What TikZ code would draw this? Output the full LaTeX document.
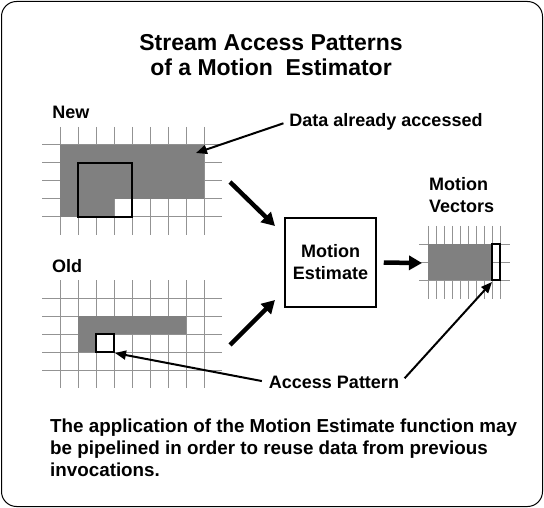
\documentclass[tikz,border=0pt]{standalone}
\usepackage{fontspec}
\setmainfont{Liberation Sans}
\usetikzlibrary{positioning,arrows.meta}

\begin{document}
\begin{tikzpicture}[x=1pt,y=-1pt,
  gridline/.style={draw=gray!85,line width=1pt},
  cellbox/.style={draw=black,line width=2pt},
  fatarrow/.style={line width=4.5pt,-{Triangle[length=13pt,width=14pt]}},
  thinarrow/.style={line width=2pt,-{Triangle[length=11pt,width=9pt]}},
  lbl/.style={inner sep=2pt,font=\fontsize{18}{22}\selectfont\bfseries}]
\useasboundingbox (0,0) rectangle (544,508);
\draw [rounded corners=15pt,line width=1pt] (1.5,1.5) rectangle (542.5,506.5);
\node [align=center,font=\fontsize{23}{25}\selectfont\bfseries] (title) at (271,55)
  {Stream Access Patterns\\of a Motion~ Estimator};
\node [lbl] (new) at (71,112) {New};
\node [lbl] (old) at (67,266) {Old};
\foreach \x in {60,78,...,204} {
  \draw [gridline] (\x,127) -- (\x,235);
  \draw [gridline] (\x,280) -- (\x,388);
}
\foreach \y in {145,163,...,217} \draw [gridline] (42,\y) -- (222,\y);
\foreach \y in {298,316,...,370} \draw [gridline] (42,\y) -- (222,\y);
\fill [gray] (60,145) -- (204,145) -- (204,199) -- (114,199) -- (114,217) -- (60,217) -- cycle;
\fill [gray] (78,316) -- (186,316) -- (186,334) -- (96,334) -- (96,352) -- (78,352) -- cycle;
\draw [cellbox] (78,163) rectangle (132,217);
\draw [cellbox] (96,334) rectangle (114,352);
\node [draw,line width=1.5pt,minimum width=91pt,minimum height=89pt,align=center,
  font=\fontsize{18}{22}\selectfont\bfseries] (estimate) at (330.5,262.5) {Motion\\Estimate};
\node [lbl,align=left,anchor=west] (vectors) at (427,195) {Motion\\Vectors};
\foreach \x in {428,436,...,500} \draw [gridline] (\x,226) -- (\x,299);
\foreach \y in {244,262,280} \draw [gridline] (419,\y) -- (510,\y);
\fill [gray] (428,244) rectangle (492,280);
\draw [cellbox] (492,244) rectangle (500,280);
\coordinate (newout) at (230,182);
\coordinate (newin) at (275,226);
\coordinate (oldout) at (230,345);
\coordinate (oldin) at (275,300);
\coordinate (vecin) at (422,263);
\draw [fatarrow] (newout) -- (newin);
\draw [fatarrow] (oldout) -- (oldin);
\draw [fatarrow,shorten <=7pt] (estimate.east) -- (vecin);
\node [lbl] (data) at (386,122) {Data already accessed};
\node [lbl] (access) at (334,382) {Access Pattern};
\coordinate (dataend) at (196,153);
\coordinate (oldcell) at (115,353);
\coordinate (veccell) at (492,282);
\draw [thinarrow,shorten <=4pt] (data.west) -- (dataend);
\draw [thinarrow,shorten <=5pt] (access.west) -- (oldcell);
\draw [thinarrow,shorten <=5pt] (access.east) -- (veccell);
\node [lbl,align=left,anchor=north west,font=\fontsize{18.8}{22}\selectfont\bfseries] (note) at (48,417)
  {The application of the Motion Estimate function may\\be pipelined in order to reuse data from previous\\invocations.};
\end{tikzpicture}
\end{document}
